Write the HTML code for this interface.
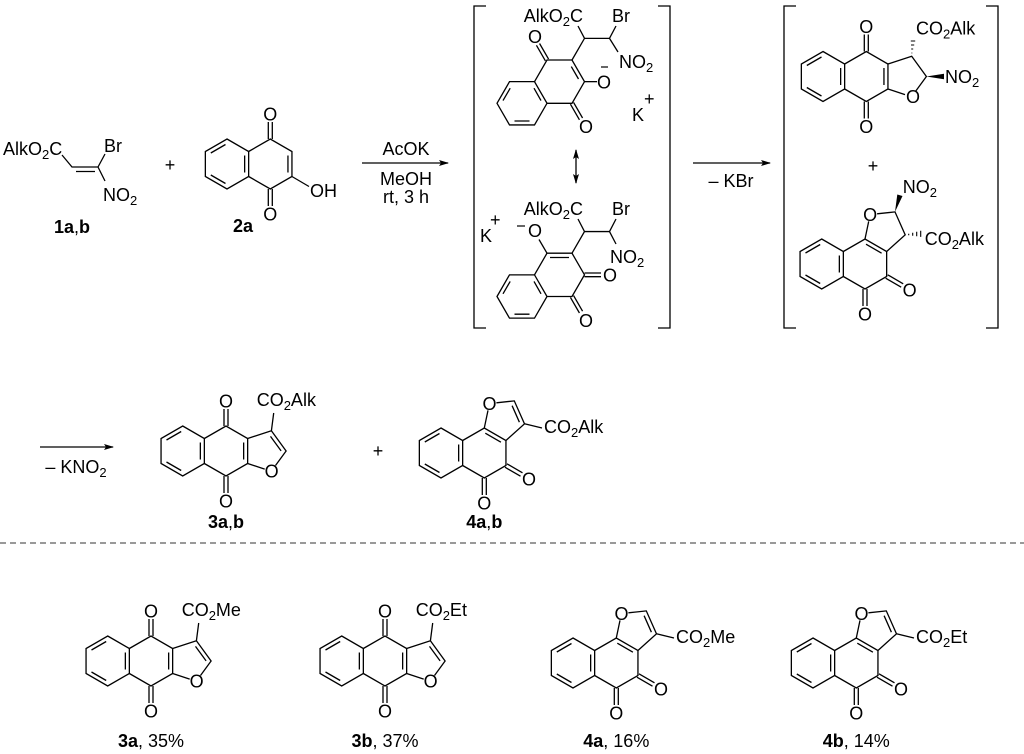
<!DOCTYPE html>
<html><head><meta charset="utf-8"><style>
html,body{margin:0;padding:0;background:#fff;}
svg{display:block;font-family:"Liberation Sans",Arial,sans-serif;}
text{font-size:18px;fill:#000;}
.b{font-weight:bold;}
</style></head><body>
<svg width="1024" height="754" viewBox="0 0 1024 754" xmlns="http://www.w3.org/2000/svg">
<defs>
<marker id="ah" markerWidth="10" markerHeight="8" refX="9" refY="4" orient="auto" markerUnits="userSpaceOnUse"><path d="M0,1 L10,4 L0,7 L2,4 Z" fill="#000"/></marker>
<marker id="ah2" markerWidth="10" markerHeight="8" refX="9" refY="4" orient="auto-start-reverse" markerUnits="userSpaceOnUse"><path d="M0,1 L10,4 L0,7 L2,4 Z" fill="#000"/></marker>
<g id="ringA" fill="none" stroke="#000" stroke-width="1.3">
<path d="M0,-25 L21.65,-12.5 L21.65,12.5 L0,25 L-21.65,12.5 L-21.65,-12.5 Z"/>
<path d="M-16.2,-11 L-1.5,-19.5 M17.65,-8.5 L17.65,8.5 M-1.5,19.5 L-16.2,11"/>
</g>
<g id="ringB" fill="none" stroke="#000" stroke-width="1.3">
<path d="M21.65,-12.5 L43.3,-25 L64.95,-12.5 L64.95,12.5 L43.3,25 L21.65,12.5"/>
</g>
<g id="nq" fill="none" stroke="#000" stroke-width="1.3">
<use href="#ringA"/><use href="#ringB"/>
<path d="M41.3,-25 V-42 M45.3,-25 V-42 M41.3,25 V42 M45.3,25 V42 M60.95,-8.5 V8.5"/>
</g>
<g id="nq3" fill="none" stroke="#000" stroke-width="1.3">
<use href="#nq"/>
<path d="M64.95,12.5 L82,18.1 M92.8,14.5 L103.4,0 L88.7,-20.2 L64.95,-12.5 M98.4,-0.1 L87.8,-14.6 M88.7,-20.2 L91,-38"/>
</g>
<g id="nq3dh" fill="none" stroke="#000" stroke-width="1.3">
<use href="#nq"/>
<path d="M64.95,12.5 L82,18.1 M92.8,14.5 L103.4,0 L88.7,-20.2 L64.95,-12.5"/>
<path d="M88.5,-23.5 h0.8 M88.2,-27.5 h2 M88,-31.5 h3.2 M87.8,-35.5 h4.4" stroke-width="1.1"/>
<polygon points="103.4,0 121,-2.8 121,2.8" fill="#000" stroke="none"/>
</g>
<g id="nq4base" fill="none" stroke="#000" stroke-width="1.3">
<use href="#ringA"/><use href="#ringB"/>
<path d="M41.3,25 V42 M45.3,25 V42 M63.95,14.23 L79.5,23.2 M65.95,10.77 L81.5,19.8 M44.3,-19.8 L59.9,-10.8"/>
<path d="M43.3,-25 L47,-42.6 M55.4,-50.2 L73.3,-52.1 L83.5,-29.2 L64.95,-12.5"/>
</g>
<g id="nq4" fill="none" stroke="#000" stroke-width="1.3">
<use href="#nq4base"/>
<path d="M71.1,-47.3 L78.4,-30.8 M83.5,-29.2 L101,-25"/>
</g>
<g id="nq4dh" fill="none" stroke="#000" stroke-width="1.3">
<use href="#nq4base"/>
<polygon points="73.3,-52.1 75.6,-69.5 80.8,-68" fill="#000" stroke="none"/>
<path d="M87,-30.2 v1.4 M91,-31.2 v3 M95,-32.3 v4.6 M99,-33.3 v6.2" stroke-width="1.1"/>
</g>
<g id="flatN" fill="none" stroke="#000" stroke-width="1.3">
<path d="M-25,0 L-12.5,-21.65 L12.5,-21.65 L25,0 L12.5,21.65 L-12.5,21.65 Z"/>
<path d="M12.5,-21.65 L25,-43.3 L50,-43.3 L62.5,-21.65 L50,0 L25,0"/>
<path d="M-19,-2.7 L-11.8,-15.1 M7.5,17.7 L-7.5,17.7 M12,-15.1 L19,-2.7"/>
</g>
</defs>

<!-- Row 1: 1a,b -->
<g fill="none" stroke="#000" stroke-width="1.3">
<path d="M62,155 L72,167 L98,167 M76,171.5 L95,171.5 M98,167 L105,154 M98,167 L105,181"/>
</g>
<text x="3" y="155">AlkO<tspan font-size="13" dy="4">2</tspan><tspan dy="-4">C</tspan></text>
<text x="104" y="152">Br</text>
<text x="103" y="201">NO<tspan font-size="13" dy="4">2</tspan></text>
<text x="72" y="233" text-anchor="middle"><tspan class="b">1a</tspan>,<tspan class="b">b</tspan></text>
<text x="170" y="171" text-anchor="middle">+</text>

<!-- 2a -->
<g transform="translate(227,164)">
<use href="#nq"/>
<path d="M64.95,12.5 L82,22.5" stroke="#000" stroke-width="1.3"/>
<text x="43.3" y="-43.5" text-anchor="middle">O</text>
<text x="43.3" y="56.5" text-anchor="middle">O</text>
<text x="83" y="33">OH</text>
<text x="16" y="68" text-anchor="middle" class="b">2a</text>
</g>

<!-- Arrow 1 -->
<line x1="362" y1="163" x2="448" y2="163" stroke="#000" stroke-width="1.3" marker-end="url(#ah)"/>
<text x="406" y="155" text-anchor="middle">AcOK</text>
<text x="406" y="185" text-anchor="middle">MeOH</text>
<text x="406" y="203" text-anchor="middle">rt, 3 h</text>

<!-- Bracket 1 -->
<path d="M486,6 H474 V328 H486 M658,6 H670 V328 H658" fill="none" stroke="#000" stroke-width="1.3"/>

<!-- Upper intermediate -->
<g transform="translate(522,103.3)"><use href="#flatN"/></g>
<g fill="none" stroke="#000" stroke-width="1.3">
<path d="M571.3,66.6 L578.5,79"/>
<path d="M548.56,59.1 L539.56,43.5 M545.44,60.9 L536.44,45.3"/>
<path d="M573.56,102.4 L582.56,118 M570.44,104.2 L579.44,119.8"/>
<path d="M584.5,81.65 L597,81.65"/>
<path d="M572,60 L584.5,38.35 L609.5,38.35 M584.5,38.35 L578,26 M609.5,38.35 L616,26 M609.5,38.35 L618,52"/>
<path d="M601,67 H608" stroke-width="1.2"/>
</g>
<text x="535" y="43" text-anchor="middle">O</text>
<text x="586" y="133" text-anchor="middle">O</text>
<text x="604" y="88.5" text-anchor="middle">O</text>
<text x="632" y="121">K</text><text x="644" y="105" font-size="13">+</text>
<text x="583" y="22" text-anchor="end">AlkO<tspan font-size="13" dy="4">2</tspan><tspan dy="-4">C</tspan></text>
<text x="612" y="22">Br</text>
<text x="619" y="68">NO<tspan font-size="13" dy="4">2</tspan></text>

<!-- resonance arrow -->
<line x1="576" y1="150" x2="576" y2="183" stroke="#000" stroke-width="1.3" marker-start="url(#ah2)" marker-end="url(#ah2)"/>

<!-- Lower intermediate -->
<g transform="translate(522,296.5)"><use href="#flatN"/></g>
<g fill="none" stroke="#000" stroke-width="1.3">
<path d="M550,257.5 L569,257.5"/>
<path d="M547,253.2 L539,239.5"/>
<path d="M584.5,273 L601,273 M584.5,276.7 L601,276.7"/>
<path d="M573.56,295.6 L582.56,311.2 M570.44,297.4 L579.44,313"/>
<path d="M572,253.2 L584.5,231.55 L609.5,231.55 M584.5,231.55 L578,219 M609.5,231.55 L616,219 M609.5,231.55 L616,244"/>
<path d="M517,226 H525" stroke-width="1.2"/>
</g>
<text x="535" y="237" text-anchor="middle">O</text>
<text x="610" y="281.5" text-anchor="middle">O</text>
<text x="586" y="327" text-anchor="middle">O</text>
<text x="480" y="242">K</text><text x="490" y="226" font-size="13">+</text>
<text x="583" y="215" text-anchor="end">AlkO<tspan font-size="13" dy="4">2</tspan><tspan dy="-4">C</tspan></text>
<text x="612" y="215">Br</text>
<text x="610" y="263">NO<tspan font-size="13" dy="4">2</tspan></text>

<!-- Arrow 2 -->
<line x1="693" y1="163" x2="770" y2="163" stroke="#000" stroke-width="1.3" marker-end="url(#ah)"/>
<text x="731" y="187" text-anchor="middle">– KBr</text>

<!-- Bracket 2 -->
<path d="M796,6 H784 V328 H796 M986,6 H998 V328 H986" fill="none" stroke="#000" stroke-width="1.3"/>
<g transform="translate(823,76.5)">
<use href="#nq3dh"/>
<text x="43.3" y="-43.5" text-anchor="middle">O</text>
<text x="43.3" y="56.5" text-anchor="middle">O</text>
<text x="90" y="26.7" text-anchor="middle">O</text>
<text x="93" y="-42">CO<tspan font-size="13" dy="4">2</tspan><tspan dy="-4">Alk</tspan></text>
<text x="122" y="6.5">NO<tspan font-size="13" dy="4">2</tspan></text>
</g>
<text x="873" y="172" text-anchor="middle">+</text>
<g transform="translate(821.7,264)">
<use href="#nq4dh"/>
<text x="48.5" y="-43" text-anchor="middle">O</text>
<text x="43.3" y="56.5" text-anchor="middle">O</text>
<text x="88" y="32.5" text-anchor="middle">O</text>
<text x="81" y="-71">NO<tspan font-size="13" dy="4">2</tspan></text>
<text x="103" y="-19">CO<tspan font-size="13" dy="4">2</tspan><tspan dy="-4">Alk</tspan></text>
</g>

<!-- Row 2 -->
<line x1="40" y1="447" x2="113" y2="447" stroke="#000" stroke-width="1.3" marker-end="url(#ah)"/>
<text x="76" y="473" text-anchor="middle">– KNO<tspan font-size="13" dy="4">2</tspan></text>

<g transform="translate(182.7,451)">
<use href="#nq3"/>
<text x="43.3" y="-43.5" text-anchor="middle">O</text>
<text x="43.3" y="56.5" text-anchor="middle">O</text>
<text x="89" y="26.7" text-anchor="middle">O</text>
<text x="74" y="-45">CO<tspan font-size="13" dy="4">2</tspan><tspan dy="-4">Alk</tspan></text>
<text x="43.3" y="77" text-anchor="middle"><tspan class="b">3a</tspan>,<tspan class="b">b</tspan></text>
</g>
<text x="378" y="457" text-anchor="middle">+</text>
<g transform="translate(441,453)">
<use href="#nq4"/>
<text x="48.5" y="-43" text-anchor="middle">O</text>
<text x="43.3" y="56.5" text-anchor="middle">O</text>
<text x="88" y="32.5" text-anchor="middle">O</text>
<text x="103" y="-20">CO<tspan font-size="13" dy="4">2</tspan><tspan dy="-4">Alk</tspan></text>
<text x="43.3" y="75" text-anchor="middle"><tspan class="b">4a</tspan>,<tspan class="b">b</tspan></text>
</g>

<!-- dashed separator -->
<line x1="0" y1="543" x2="1024" y2="543" stroke="#333" stroke-width="1" stroke-dasharray="6,4"/>

<!-- Row 3 -->
<g transform="translate(107.7,661)">
<use href="#nq3"/>
<text x="43.3" y="-43.5" text-anchor="middle">O</text>
<text x="43.3" y="56.5" text-anchor="middle">O</text>
<text x="89" y="26.7" text-anchor="middle">O</text>
<text x="74" y="-45">CO<tspan font-size="13" dy="4">2</tspan><tspan dy="-4">Me</tspan></text>
<text x="43.3" y="86" text-anchor="middle"><tspan class="b">3a</tspan>, 35%</text>
</g>
<g transform="translate(341.7,661)">
<use href="#nq3"/>
<text x="43.3" y="-43.5" text-anchor="middle">O</text>
<text x="43.3" y="56.5" text-anchor="middle">O</text>
<text x="89" y="26.7" text-anchor="middle">O</text>
<text x="74" y="-45">CO<tspan font-size="13" dy="4">2</tspan><tspan dy="-4">Et</tspan></text>
<text x="43.3" y="86" text-anchor="middle"><tspan class="b">3b</tspan>, 37%</text>
</g>
<g transform="translate(573,663)">
<use href="#nq4"/>
<text x="48.5" y="-43" text-anchor="middle">O</text>
<text x="43.3" y="56.5" text-anchor="middle">O</text>
<text x="88" y="32.5" text-anchor="middle">O</text>
<text x="103" y="-20">CO<tspan font-size="13" dy="4">2</tspan><tspan dy="-4">Me</tspan></text>
<text x="43.3" y="84" text-anchor="middle"><tspan class="b">4a</tspan>, 16%</text>
</g>
<g transform="translate(813,663)">
<use href="#nq4"/>
<text x="48.5" y="-43" text-anchor="middle">O</text>
<text x="43.3" y="56.5" text-anchor="middle">O</text>
<text x="88" y="32.5" text-anchor="middle">O</text>
<text x="103" y="-20">CO<tspan font-size="13" dy="4">2</tspan><tspan dy="-4">Et</tspan></text>
<text x="43.3" y="84" text-anchor="middle"><tspan class="b">4b</tspan>, 14%</text>
</g>
</svg>
</body></html>
